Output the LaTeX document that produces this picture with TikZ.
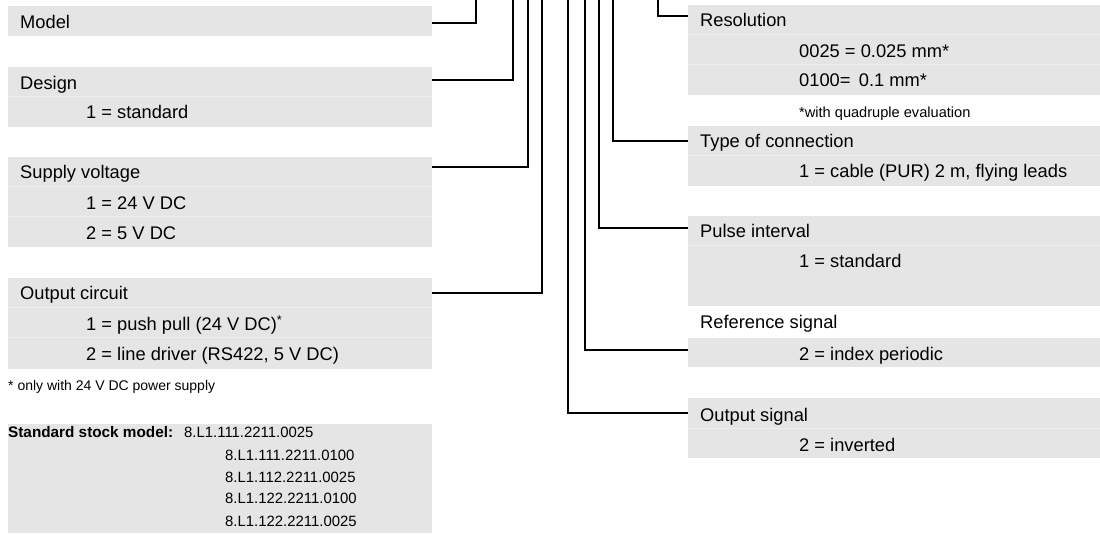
\documentclass[tikz,border=0pt]{standalone}
\usepackage{fontspec}
\setmainfont{Liberation Sans}
\newcommand\mainsz{\fontsize{18.3}{22}\selectfont}
\newcommand\notesz{\fontsize{14}{17}\selectfont}
\newcommand\notebsz{\fontsize{14.6}{17}\selectfont}
\newcommand\stocksz{\fontsize{14.9}{18}\selectfont}
\newcommand\stockbsz{\fontsize{15.3}{18}\selectfont}
\definecolor{boxgray}{HTML}{E5E5E5}
\definecolor{sepgray}{HTML}{EFEFEF}
\tikzset{
  lrow/.style={fill=boxgray, inner sep=0pt, outer sep=0pt, minimum width=424pt, minimum height=30pt, anchor=north west},
  rrow/.style={fill=boxgray, inner sep=0pt, outer sep=0pt, minimum width=412pt, minimum height=30pt, anchor=north west},
  lbl/.style={anchor=base west, inner sep=0pt, font=\mainsz},
  note/.style={anchor=base west, inner sep=0pt, font=\notesz},
  noteb/.style={anchor=base west, inner sep=0pt, font=\notebsz},
  stk/.style={anchor=base west, inner sep=0pt, font=\stocksz},
  stkb/.style={anchor=base west, inner sep=0pt, font=\stockbsz\bfseries},
  conn/.style={line width=2pt, black},
  sepline/.style={sepgray, line width=1pt},
}
\begin{document}
\begin{tikzpicture}[x=1pt,y=-1pt]
\useasboundingbox (0,0) rectangle (1100,534);
% left rows
\node[lrow] (modelH) at (8,6) {};
\node[lrow] (designH) at (8,67) {};
\node[lrow] (designV) at (8,97) {};
\node[lrow] (supplyH) at (8,157) {};
\node[lrow] (supplyV1) at (8,187) {};
\node[lrow] (supplyV2) at (8,217) {};
\node[lrow] (outH) at (8,278) {};
\node[lrow] (outV1) at (8,308) {};
\node[lrow, minimum height=31pt] (outV2) at (8,338) {};
\node[lrow, minimum height=109pt] (stock) at (8,424) {};
% right rows
\node[rrow] (resH) at (688,5) {};
\node[rrow] (resV1) at (688,35) {};
\node[rrow] (resV2) at (688,65) {};
\node[rrow] (typeH) at (688,126) {};
\node[rrow] (typeV) at (688,156) {};
\node[rrow] (pulseH) at (688,216) {};
\node[rrow, minimum height=60pt] (pulseV) at (688,246) {};
\node[rrow, minimum height=29pt] (refV) at (688,338) {};
\node[rrow] (osigH) at (688,398) {};
\node[rrow] (osigV) at (688,428) {};
\foreach \r in {designV,supplyV1,supplyV2,outV1,outV2,resV1,resV2,typeV,pulseV,osigV}
  \draw[sepline] (\r.north west) -- (\r.north east);
% left texts
\node[lbl] (tModel) at (20,29) {Model};
\node[lbl] (tDesign) at (20,90) {Design};
\node[lbl] (tDesign1) at (86,119) {1 = standard};
\node[lbl] (tSupply) at (20,179) {Supply voltage};
\node[lbl] (tSupply1) at (86,210) {1 = 24 V DC};
\node[lbl] (tSupply2) at (86,240) {2 = 5 V DC};
\node[lbl] (tOut) at (20,300) {Output circuit};
\node[lbl] (tOut1) at (86,331) {1 = push pull (24 V DC)\textsuperscript{*}};
\node[lbl] (tOut2) at (86,361) {2 = line driver (RS422, 5 V DC)};
\node[note] (tOutNote) at (8,391) {* only with 24 V DC power supply};
\node[stkb] (tStock) at (8,437) {Standard stock model:};
\node[stk] (tStock1) at (184,437) {8.L1.111.2211.0025};
\node[stk] (tStock2) at (225,460) {8.L1.111.2211.0100};
\node[stk] (tStock3) at (225,482) {8.L1.112.2211.0025};
\node[stk] (tStock4) at (225,503) {8.L1.122.2211.0100};
\node[stk] (tStock5) at (225,526) {8.L1.122.2211.0025};
% right texts
\node[lbl] (tRes) at (700,27) {Resolution};
\node[lbl] (tRes1) at (799,58) {0025 = 0.025 mm*};
\node[lbl] (tRes2) at (799,87) {0100=\hspace{0.45em}0.1 mm*};
\node[noteb] (tResNote) at (799,118) {*with quadruple evaluation};
\node[lbl] (tType) at (700,148) {Type of connection};
\node[lbl] (tType1) at (799,178) {1 = cable (PUR) 2 m, flying leads};
\node[lbl] (tPulse) at (700,238) {Pulse interval};
\node[lbl] (tPulse1) at (799,268) {1 = standard};
\node[lbl] (tRef) at (700,329) {Reference signal};
\node[lbl] (tRef1) at (799,360) {2 = index periodic};
\node[lbl] (tOsig) at (700,421) {Output signal};
\node[lbl] (tOsig1) at (799,451) {2 = inverted};
% connector tops
\coordinate (cModel) at (476,-2);
\coordinate (cDesign) at (512.7,-2);
\coordinate (cSupply) at (527.7,-2);
\coordinate (cOut) at (541.7,-2);
\coordinate (cOsig) at (567.5,-2);
\coordinate (cRef) at (585,-2);
\coordinate (cPulse) at (599.3,-2);
\coordinate (cType) at (612.5,-2);
\coordinate (cRes) at (658.3,-2);
% connectors
\draw[conn] (cModel) |- ([yshift=-2pt]modelH.east);
\draw[conn] (cDesign) |- ([yshift=2pt]designH.east);
\draw[conn] (cSupply) |- ([yshift=5pt]supplyH.east);
\draw[conn] (cOut) |- (outH.east);
\draw[conn] (cRes) |- ([yshift=4pt]resH.west);
\draw[conn] (cType) |- (typeH.west);
\draw[conn] (cPulse) |- ([yshift=3pt]pulseH.west);
\draw[conn] (cRef) |- ([yshift=2.5pt]refV.west);
\draw[conn] (cOsig) |- (osigH.west);
\end{tikzpicture}
\end{document}
